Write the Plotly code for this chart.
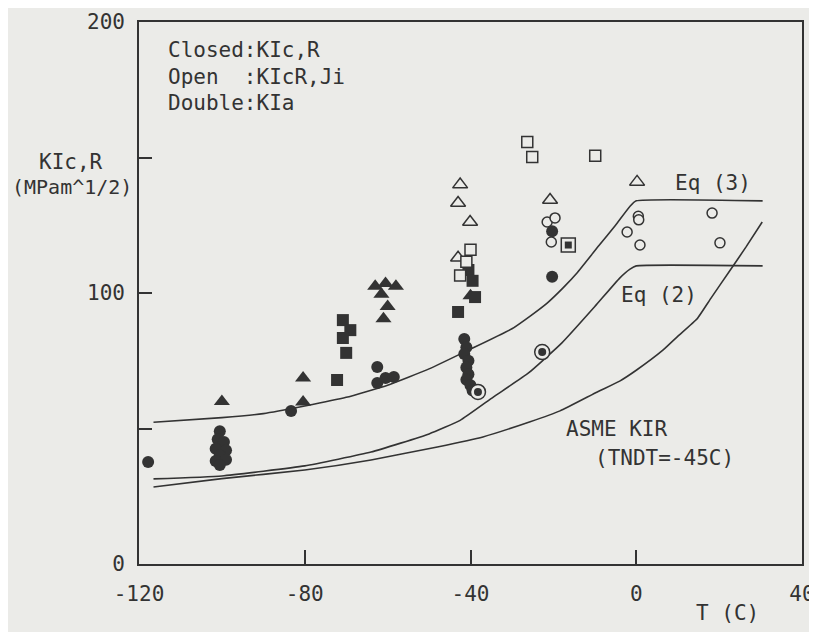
import plotly.graph_objects as go

# ---------------- data ----------------
# Closed markers: KIc,R
closed_circle_T = [-117.8, -100.5, -101.0, -99.5, -101.5, -99.0, -100.5, -101.5, -99.0, -100.5,
                   -83.3, -62.5, -62.5, -60.5, -58.5,
                   -41.5, -41.0, -41.5, -40.5, -41.0, -40.5, -41.0, -40.0, -39.5,
                   -20.3, -20.3]
closed_circle_K = [37.6, 49.0, 46.0, 45.0, 42.5, 42.0, 40.0, 38.0, 38.5, 36.5,
                   56.5, 72.7, 66.8, 68.6, 69.0,
                   83.0, 80.0, 77.5, 75.0, 72.5, 70.0, 68.0, 66.0, 64.0,
                   122.8, 106.0]

closed_tri_T = [-100.0, -80.4, -80.4, -63.0, -60.5, -58.0, -61.5, -60.0, -61.0, -40.0]
closed_tri_K = [60.0, 68.6, 59.8, 102.5, 103.5, 102.5, 99.5, 95.0, 90.5, 99.0]

closed_sq_T = [-72.2, -70.8, -69.0, -70.8, -70.0, -43.0, -38.9, -40.5, -39.5]
closed_sq_K = [67.9, 90.0, 86.3, 83.4, 77.9, 93.0, 98.5, 108.5, 104.5]

# Open markers: KIcR, Ji
open_tri_T = [-42.5, -43.0, -40.1, -43.0, -20.8, 0.2]
open_tri_K = [140.0, 133.2, 126.2, 113.0, 134.3, 141.0]

open_sq_T = [-26.3, -25.1, -9.9, -40.0, -41.0, -42.5]
open_sq_K = [155.7, 150.2, 150.6, 116.0, 111.5, 106.5]

open_circle_T = [-21.5, -19.6, -20.5, 0.5, 0.6, -2.2, 0.9, 18.3, 20.2]
open_circle_K = [126.2, 127.7, 118.8, 128.3, 127.0, 122.5, 117.7, 129.5, 118.5]

# Double markers: KIa
double_circle_T = [-22.7, -38.2]
double_circle_K = [78.2, 63.5]
double_sq_T = [-16.4]
double_sq_K = [117.7]

# Reference curves
eq3_T = [-116.5, -100, -90, -80, -70, -60, -50, -40, -30, -25.6, -21.5, -17.6, -14.3,
         -9, -5, -1.5, 0, 30.5]
eq3_K = [52.3, 54.0, 55.5, 58.3, 61.5, 66.0, 72.0, 79.3, 86.8, 91.5, 96.3, 102.0, 107.4,
         117.5, 125.0, 132.0, 134.0, 134.0]

eq2_T = [-116.5, -100, -80, -64, -50, -42.5, -34.5, -26, -18, -10, -4, -1.5, 0, 30.5]
eq2_K = [31.4, 32.5, 36.2, 41.3, 48.0, 53.0, 61.6, 70.5, 81.5, 95.0, 105.5, 108.8, 110.0, 110.0]

asme_T = [-116.5, -100, -80, -64, -48, -37, -25.6, -18.4, -9.4, -4, 0, 6.5, 10, 14.7,
          18, 22.7, 26.5, 30.4]
asme_K = [28.4, 31.5, 34.7, 38.4, 43.2, 46.9, 52.5, 56.5, 63.5, 67.5, 71.5, 79.0, 84.0, 90.5,
          98.0, 108.5, 117.0, 126.2]

x_ticks = [-120, -80, -40, 0, 40]
x_tick_text = ["-120", "-80", "-40", "0", "40"]
y_ticks = [0, 50, 100, 150, 200]
y_tick_text = ["0", "", "100", "", "200"]

# ---------------- styling ----------------
BG = "#ebebe8"
INK = "#333333"
FONT = "DejaVu Sans Mono"

fig = go.Figure()

for T, K in [(eq3_T, eq3_K), (eq2_T, eq2_K), (asme_T, asme_K)]:
    fig.add_trace(go.Scatter(x=T, y=K, mode="lines",
                             line=dict(color=INK, width=1.6, shape="spline", smoothing=0.4),
                             hoverinfo="skip"))

def add_markers(T, K, symbol, size, filled=True, lw=1.5):
    if filled:
        m = dict(symbol=symbol, size=size, color=INK, line=dict(width=0))
    else:
        m = dict(symbol=symbol, size=size, color=BG, line=dict(color=INK, width=lw))
    fig.add_trace(go.Scatter(x=T, y=K, mode="markers", marker=m))

add_markers(closed_circle_T, closed_circle_K, "circle", 12)
add_markers(closed_tri_T, closed_tri_K, "triangle-up", 14)
add_markers(closed_sq_T, closed_sq_K, "square", 12)
add_markers(open_tri_T, open_tri_K, "triangle-up", 13, filled=False)
add_markers(open_sq_T, open_sq_K, "square", 11, filled=False)
add_markers(open_circle_T, open_circle_K, "circle", 10, filled=False)
add_markers(double_circle_T, double_circle_K, "circle", 15, filled=False)
add_markers(double_circle_T, double_circle_K, "circle", 8)
add_markers(double_sq_T, double_sq_K, "square", 14, filled=False)
add_markers(double_sq_T, double_sq_K, "square", 7)

tfont = dict(family=FONT, size=21, color=INK)

annotations = [
    dict(x=-113.5, y=189.7, text="Closed:KIc,R", xanchor="left"),
    dict(x=-113.5, y=179.8, text="Open  :KIcR,Ji", xanchor="left"),
    dict(x=-113.5, y=170.2, text="Double:KIa", xanchor="left"),
    dict(x=18.6, y=140.6, text="Eq (3)"),
    dict(x=5.5, y=99.3, text="Eq (2)"),
    dict(x=-4.6, y=49.8, text="ASME KIR"),
    dict(x=6.7, y=39.1, text="(TNDT=-45C)"),
]
for a in annotations:
    a.update(xref="x", yref="y", showarrow=False, font=tfont,
             xanchor=a.get("xanchor", "center"), yanchor="middle")
annotations += [
    dict(xref="paper", yref="paper", x=-0.103, y=0.7417, text="KIc,R",
         showarrow=False, font=tfont, xanchor="center", yanchor="middle"),
    dict(xref="paper", yref="paper", x=-0.101, y=0.6956, text="(MPam^1/2)",
         showarrow=False, font=dict(family=FONT, size=20, color=INK),
         xanchor="center", yanchor="middle"),
    dict(xref="paper", yref="paper", x=0.888, y=-0.0904, text="T (C)",
         showarrow=False, font=tfont, xanchor="center", yanchor="middle"),
]

# the page body adds an 8px offset; the figure is sized to fill the window
fig.update_layout(
    width=809, height=624,
    margin=dict(l=131, r=15, t=14, b=68, autoexpand=False),
    paper_bgcolor=BG, plot_bgcolor=BG,
    showlegend=False,
    font=tfont,
    annotations=annotations,
    xaxis=dict(range=[-120, 40], tickvals=x_ticks, ticktext=x_tick_text,
               ticks="inside", ticklen=14, tickcolor=INK, tickwidth=1.5,
               showline=True, linecolor=INK, linewidth=1.6, mirror=True,
               showgrid=False, zeroline=False, ticklabelstandoff=10,
               tickfont=tfont, automargin=False),
    yaxis=dict(range=[0, 200], tickvals=y_ticks, ticktext=y_tick_text,
               ticks="inside", ticklen=13, tickcolor=INK, tickwidth=1.5,
               showline=True, linecolor=INK, linewidth=1.6, mirror=True,
               showgrid=False, zeroline=False, ticklabelstandoff=8,
               tickfont=tfont, automargin=False),
)

fig.write_html("out.html")
